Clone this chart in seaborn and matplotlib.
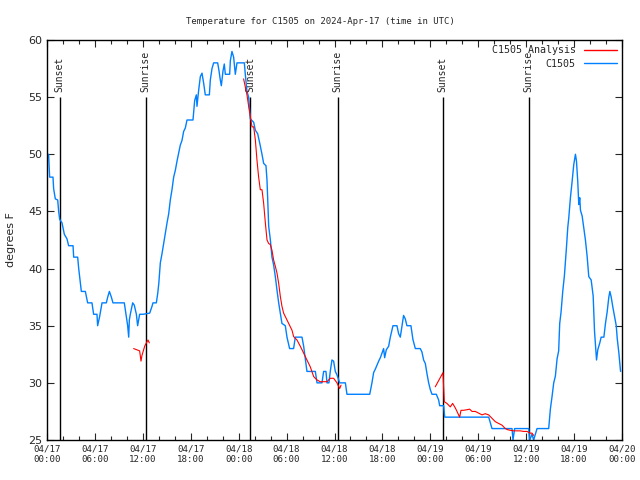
import numpy as np
import pandas as pd
import matplotlib
matplotlib.use('Agg')
import matplotlib.pyplot as plt
import seaborn as sns
from matplotlib.lines import Line2D
from matplotlib.ticker import MultipleLocator

# hours since 04/17 00:00 UTC
obs_hours = [0.2, 0.33, 0.75, 0.83, 1.04, 1.34, 1.46, 1.59, 1.88, 2.17, 2.5, 2.71, 3.26, 3.34,
             3.84, 3.97, 4.3, 4.8, 5.09, 5.63, 5.84, 6.26, 6.34, 6.59, 6.89, 7.43, 7.6, 7.81,
             8.06, 8.26, 9.68, 9.89, 10.1, 10.23, 10.31, 10.43, 10.73, 10.93, 11.19, 11.35,
             11.6, 12.02, 12.86, 13.15, 13.27, 13.69, 13.86, 14.0, 14.19, 14.4, 14.61, 14.82,
             15.03, 15.24, 15.44, 15.65, 15.86, 16.07, 16.28, 16.49, 16.69, 16.9, 17.11, 17.32,
             17.53, 18.28, 18.49, 18.7, 18.78, 18.99, 19.2, 19.41, 19.62, 19.82, 20.33, 20.45,
             20.66, 20.87, 21.37, 21.54, 21.7, 21.83, 22.04, 22.2, 22.33, 22.87, 22.96, 23.16,
             23.37, 23.58, 23.79, 24.71, 24.83, 25.04, 25.25, 25.46, 25.88, 26.09, 26.38, 26.63,
             26.92, 27.13, 27.42, 27.55, 27.76, 27.97, 28.17, 28.38, 28.59, 28.8, 29.01, 29.22,
             29.42, 29.84, 30.05, 30.38, 30.88, 31.09, 31.93, 32.14, 32.35, 32.55, 33.6, 33.81,
             34.43, 34.64, 34.93, 35.06, 35.3, 35.47, 35.68, 35.89, 36.1, 36.31, 36.65, 37.36,
             37.56, 40.41, 40.69, 40.9, 41.11, 41.53, 41.74, 41.95, 42.15, 42.28, 42.49, 42.78,
             42.99, 43.32, 43.82, 44.03, 44.24, 44.45, 44.65, 44.86, 45.07, 45.57, 45.82, 46.12,
             46.74, 46.95, 47.16, 47.37, 47.58, 47.79, 48.0, 48.21, 48.75, 49.04, 49.17, 49.67,
             49.8, 55.31, 55.72, 58.23, 58.35, 58.56, 60.31, 60.44, 60.73, 60.94, 61.15, 61.36,
             62.82, 63.03, 63.24, 63.45, 63.66, 63.87, 64.07, 64.2, 64.37, 64.58, 64.79, 65.04,
             65.21, 65.33, 65.54, 65.75, 65.96, 66.17, 66.3, 66.46, 66.59, 66.71, 66.8, 67.01,
             67.22, 67.42, 67.63, 67.84, 68.14, 68.39, 68.56, 68.81, 68.97, 69.22, 69.39, 69.73,
             69.93, 70.14, 70.35, 70.48, 70.65, 70.86, 71.07, 71.28, 71.4, 71.61, 71.82]
obs_temps = [50, 48, 48, 47, 46.1, 46, 45, 44.3, 44, 43, 42.6, 42, 42, 41,
             41, 40, 38, 38, 37, 37, 36, 36, 35, 35.8, 37, 37, 37.5, 38,
             37.5, 37, 37, 36, 35, 34, 35.5, 36, 37, 36.8, 36, 35,
             36, 36, 36.1, 36.7, 37, 37, 37.8, 38.7, 40.5, 41.3, 42.2, 43.1,
             44, 44.8, 46, 46.9, 48, 48.6, 49.4, 50.1, 50.8, 51.2, 52, 52.3,
             53, 53, 54.7, 55.2, 54.2, 55.6, 56.8, 57.1, 56.2, 55.2, 55.2, 56.5,
             57.5, 58, 58, 57.3, 56.5, 56, 57.3, 57.9, 57, 57, 58.2, 59,
             58.5, 57, 58, 58, 57, 55.5, 55, 53.1, 52.8, 52.1, 51.8, 51,
             50, 49.2, 49, 47.7, 43.7, 42.5, 41, 40.3, 39.3, 38.1, 37, 36.1,
             35.2, 35, 34, 33, 33, 34, 34, 33.2, 32.1, 31, 31, 30,
             30, 31, 31, 30, 30, 31, 32, 31.9, 31, 30.7, 30, 30,
             29, 29, 30, 30.9, 31.2, 31.9, 32.2, 32.6, 33, 32.2, 32.9, 33.2,
             34, 35, 35, 34.3, 34, 35, 35.9, 35.6, 35, 35, 33.8, 33,
             33, 32.7, 32, 31.7, 30.8, 30, 29.4, 29, 29, 28.5, 28, 28,
             27, 27, 26, 26, 25, 26, 26, 25, 25.5, 25, 25.5, 26,
             26, 27.7, 28.8, 30, 30.6, 32.1, 32.8, 35.2, 36.2, 38, 39.4, 41.8,
             43.6, 44.4, 46.2, 47.6, 49.1, 50, 49.4, 47.6, 45.6, 46.2, 45.1, 44.6,
             43.5, 42.5, 41.1, 39.3, 39, 37.6, 34.5, 32, 32.9, 33.5, 34, 34,
             35.2, 36.2, 37.5, 38, 37.5, 36.6, 35.8, 35, 33.9, 32.6, 31]

# analysis series, three separate runs
ana1_hours = [10.85, 11.6, 11.77, 11.89, 12.23, 12.52, 12.65, 12.81]
ana1_temps = [33.0, 32.8, 31.9, 32.4, 33.2, 33.6, 33.75, 33.5]
ana2_hours = [24.62, 25.04, 25.25, 25.46, 25.67, 25.88, 26.09, 26.29, 26.5, 26.71, 26.92, 27.13,
              27.34, 27.55, 27.75, 27.96, 28.17, 28.38, 28.59, 28.8, 29.01, 29.22, 29.42, 29.63,
              30.05, 30.47, 30.68, 30.88, 31.3, 31.72, 32.14, 32.55, 32.97, 33.39, 33.81, 34.22,
              34.64, 35.05, 35.47, 35.89, 36.31, 36.65, 36.82]
ana2_temps = [56.6, 55.2, 54.2, 53.3, 52.4, 52.4, 51.25, 49.5, 48, 46.9, 46.9, 45.7,
              44, 42.5, 42.2, 42.1, 41.6, 40.75, 40.2, 39.6, 38.7, 37.55, 36.7, 36.1,
              35.5, 34.9, 34.6, 34.05, 33.75, 33.2, 32.6, 32, 31.4, 30.55, 30.25, 30.1,
              30.1, 30.1, 30.4, 30.4, 30, 29.5, 29.8]
ana3_hours = [48.62, 49.58, 49.75, 50.08, 50.5, 50.79, 51.13, 51.34, 51.67, 51.84, 52.17, 52.59,
              52.92, 53.22, 53.63, 54.05, 54.47, 54.88, 55.3, 55.72, 56.14, 56.55, 56.97, 57.39,
              57.68, 58.01, 58.43, 58.85, 59.27, 59.68, 60.1, 60.52, 60.73, 60.94]
ana3_temps = [29.66, 30.89, 28.35, 28.2, 27.9, 28.2, 27.8, 27.5, 27.0, 27.6, 27.6, 27.65,
              27.7, 27.5, 27.5, 27.35, 27.2, 27.3, 27.2, 26.9, 26.6, 26.45, 26.3, 26.0,
              25.9, 25.85, 25.8, 25.8, 25.8, 25.75, 25.75, 25.6, 25.6, 25.4]

sun_hours = [1.58, 12.35, 25.46, 36.39, 49.54, 60.31]
sun_labels = ['Sunset', 'Sunrise', 'Sunset', 'Sunrise', 'Sunset', 'Sunrise']

tick_hours = list(range(0, 73, 6))
tick_labels = ['04/17\n00:00', '04/17\n06:00', '04/17\n12:00', '04/17\n18:00',
               '04/18\n00:00', '04/18\n06:00', '04/18\n12:00', '04/18\n18:00',
               '04/19\n00:00', '04/19\n06:00', '04/19\n12:00', '04/19\n18:00',
               '04/20\n00:00']

BLUE = '#0080ff'
RED = '#ff0000'
MONO = 'DejaVu Sans Mono'

sns.set_style('ticks')
plt.rcParams['font.family'] = ['DejaVu Sans']

obs = pd.DataFrame({'hour': obs_hours, 'temp': obs_temps})
ana = pd.concat([
    pd.DataFrame({'hour': ana1_hours, 'temp': ana1_temps, 'seg': 1}),
    pd.DataFrame({'hour': ana2_hours, 'temp': ana2_temps, 'seg': 2}),
    pd.DataFrame({'hour': ana3_hours, 'temp': ana3_temps, 'seg': 3}),
], ignore_index=True)

fig = plt.figure(figsize=(6.4, 4.8), dpi=100)
ax = fig.add_axes([47 / 640, 40 / 480, 575 / 640, 400 / 480])

ax.vlines(sun_hours, 25, 55, color='black', lw=1, zorder=1)
for h, lab in zip(sun_hours, sun_labels):
    ax.text(h, 55.45, lab, rotation=90, ha='center', va='bottom',
            family=MONO, fontsize=7)

sns.lineplot(data=ana, x='hour', y='temp', units='seg', estimator=None,
             color=RED, lw=0.8, sort=False, ax=ax, zorder=3)
sns.lineplot(data=obs, x='hour', y='temp', estimator=None,
             color=BLUE, lw=1.0, sort=False, ax=ax, zorder=2)

ax.set_xlim(0, 72)
ax.set_ylim(25, 60)
ax.set_xticks(tick_hours)
ax.set_xticklabels(tick_labels, family=MONO, fontsize=6.6)
ax.xaxis.set_minor_locator(MultipleLocator(2))
ax.yaxis.set_major_locator(MultipleLocator(5))
ax.tick_params(axis='y', labelsize=8)
ax.tick_params(which='both', direction='in', top=True, right=True, width=0.8)
ax.tick_params(which='major', length=5)
ax.tick_params(which='minor', length=3)
for s in ax.spines.values():
    s.set_linewidth(1)
    s.set_color('black')

ax.set_xlabel('')
ax.set_ylabel('degrees F', fontsize=8, labelpad=9)
fig.text(0.5, 1 - 21 / 480, 'Temperature for C1505 on 2024-Apr-17 (time in UTC)',
         ha='center', va='center', family=MONO, fontsize=6.5)

handles = [Line2D([], [], color=RED, lw=1), Line2D([], [], color=BLUE, lw=1)]
leg = ax.legend(handles, ['C1505 Analysis', 'C1505'], loc='upper right',
                frameon=False, markerfirst=False, handlelength=3.3,
                prop={'family': MONO, 'size': 7.2}, labelspacing=0.35,
                borderaxespad=0.15, handletextpad=0.8, borderpad=0.4)
# right-align the legend entries like the original
leg._legend_box._children[-1]._children[0].align = 'right'

fig.savefig('out.png', dpi=100)
